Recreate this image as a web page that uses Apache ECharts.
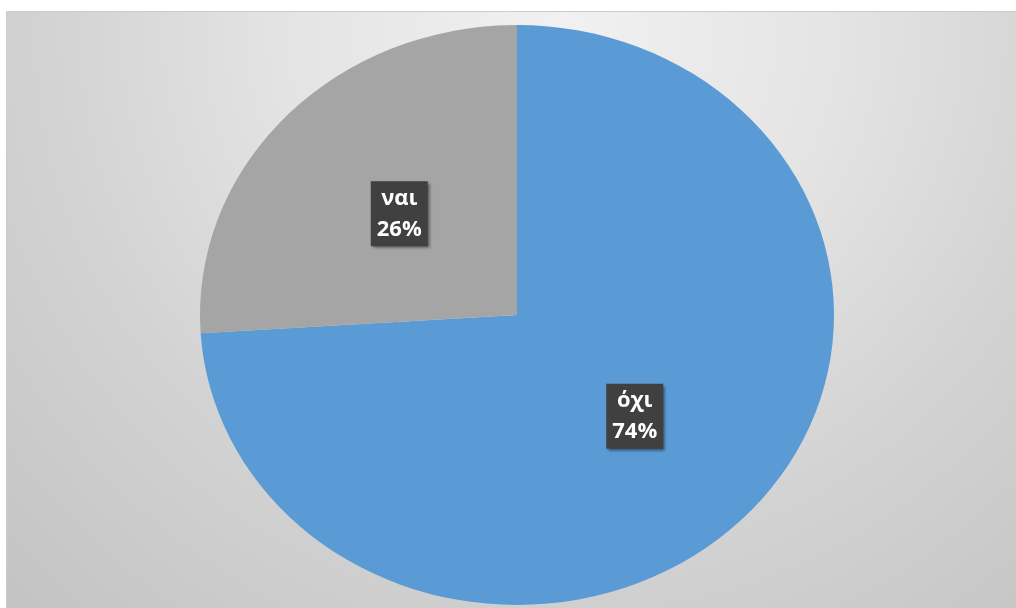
<!DOCTYPE html>
<html>
<head>
<meta charset="utf-8">
<script src="https://cdn.jsdelivr.net/npm/echarts@6/dist/echarts.min.js"></script>
<style>
  html, body { margin: 0; padding: 0; background: #ffffff; }
  #chart { width: 1016px; height: 608px; }
</style>
</head>
<body>
<div id="chart"></div>
<script>
// Survey answers (share of respondents)
const categories = ['όχι', 'ναι'];
const values = [74, 26];
const colors = ['#5B9BD5', '#A5A5A5'];

// Pie geometry: drawn as a circle of radius RX, then squashed vertically to RY
const CX = 517, CY = 315, RX = 317, RY = 290;

const chart = echarts.init(document.getElementById('chart'), null, { renderer: 'canvas' });

chart.setOption({
  animation: false,
  backgroundColor: '#ffffff',
  graphic: [{
    type: 'rect',
    silent: true,
    z: -10,
    shape: { x: 6.5, y: 11.5, width: 1012, height: 600 },
    style: {
      fill: {
        type: 'radial', x: 0.55, y: 0.03, r: 1.3,
        colorStops: [
          { offset: 0, color: '#f1f1f1' },
          { offset: 0.35, color: '#e4e4e4' },
          { offset: 0.65, color: '#d3d3d3' },
          { offset: 1, color: '#c4c4c4' }
        ]
      },
      stroke: '#cdcdcd',
      lineWidth: 1
    }
  }],
  series: [{
    type: 'pie',
    silent: true,
    center: [CX, CY],
    radius: RX,
    startAngle: 90,
    clockwise: true,
    data: categories.map((name, i) => ({
      name: name,
      value: values[i],
      itemStyle: { color: colors[i] }
    })),
    itemStyle: { borderWidth: 0 },
    label: {
      show: true,
      position: 'inside',
      formatter: '{b}\n{d}%',
      color: '#ffffff',
      fontFamily: '"Open Sans", "Noto Sans", sans-serif',
      fontWeight: 'bold',
      fontSize: 22,
      lineHeight: 31,
      align: 'center',
      backgroundColor: '#404040',
      padding: [2, 6, 1, 6],
      shadowColor: 'rgba(0,0,0,0.5)',
      shadowBlur: 3,
      shadowOffsetX: 2,
      shadowOffsetY: 2
    },
    labelLine: { show: false },
    emphasis: { disabled: true }
  }]
});

// Turn the circular pie into an ellipse: scale each slice vertically about the centre
// and move the labels along with it (labels keep their upright, unscaled text).
(function flattenPie() {
  const k = RY / RX;
  const data = chart.getModel().getSeriesByIndex(0).getData();
  data.each(function (idx) {
    const el = data.getItemGraphicEl(idx);
    if (!el) return;
    el.originX = CX;
    el.originY = CY;
    el.scaleY = k;
    el.markRedraw();
    const label = el.getTextContent();
    if (label) {
      label.y = CY + (label.y - CY) * k;
      label.markRedraw();
    }
  });
})();
</script>
</body>
</html>
